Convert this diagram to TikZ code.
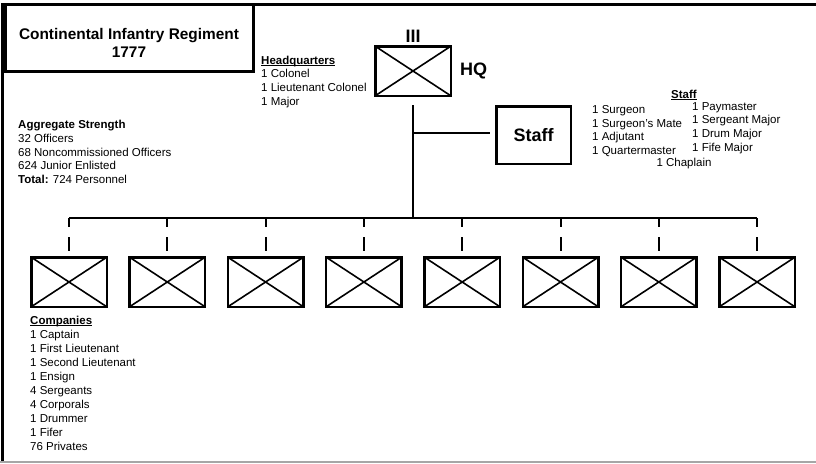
\documentclass[tikz,border=0pt]{standalone}
\usepackage{fontspec}
\setmainfont{Liberation Sans}
\usetikzlibrary{positioning,calc}

% bold heading with a tight underline
\newcommand{\hdr}[1]{\sbox0{\textbf{#1}}\usebox0\llap{\rule[-1.6pt]{\wd0}{0.9pt}}}

\begin{document}
\begin{tikzpicture}[x=1pt, y=-1pt,
    unit/.style={draw, line width=2.5pt, minimum width=75.5pt, minimum height=49.5pt, inner sep=0pt,
        path picture={\draw[line width=1.6pt] (path picture bounding box.north west) -- (path picture bounding box.south east)
            (path picture bounding box.south west) -- (path picture bounding box.north east);}},
    staffbox/.style={draw, line width=2.5pt, minimum width=74.5pt, minimum height=57.5pt, inner sep=0pt, font=\fontsize{18}{20}\selectfont\bfseries},
    roster/.style={anchor=north west, inner sep=0pt, align=left, font=\fontsize{11.5}{13.8}\selectfont},
    big/.style={inner sep=0pt, font=\fontsize{18}{20}\selectfont\bfseries},
    link/.style={line width=2pt},
    drop/.style={line width=2pt, dash pattern=on 9pt off 10pt on 14pt off 10pt}
]
\useasboundingbox (0,0) rectangle (816,463);

% frame and title
\draw[line width=3.5pt] (2.5,463) -- (2.5,4.5) -- (816,4.5);
\draw[gray!70, line width=1.5pt] (0,461.8) -- (816,461.8);
\draw[line width=3pt] (5.5,4.5) rectangle (253,71);
\node[align=center, inner sep=0pt, font=\fontsize{15.4}{18.5}\selectfont\bfseries] (title) at (129,43) {Continental Infantry Regiment\\1777};

% headquarters
\node[unit] (hq) at (413,71) {};
\node[big, above=2.5pt of hq] (size) {III};
\node[big, right=8pt of hq] (hqlabel) {HQ};
\node[roster] (hqlist) at (261,55.5) {\hdr{Headquarters}\\1 Colonel\\1 Lieutenant Colonel\\1 Major};

% staff
\node[staffbox] (staff) at (533.5,135) {Staff};
\node[inner sep=0pt, font=\fontsize{11.5}{13.8}\selectfont] (stafftitle) at (684,95) {\hdr{Staff}};
\node[roster] (staffleft) at (592,105) {1 Surgeon\\1 Surgeon's Mate\\1 Adjutant\\1 Quartermaster};
\node[roster] (staffright) at (692,102) {1 Paymaster\\1 Sergeant Major\\1 Drum Major\\1 Fife Major};
\node[inner sep=0pt, font=\fontsize{11.5}{13.8}\selectfont] (chaplain) at (684,164) {1 Chaplain};

% strength
\node[roster] (strength) at (18,120) {\textbf{Aggregate Strength}\\32 Officers\\68 Noncommissioned Officers\\624 Junior Enlisted\\\textbf{Total:} 724 Personnel};

% companies
\foreach \i in {1,...,8}
    \node[unit] (c\i) at ({69+(\i-1)*98.3},282) {};
\node[roster, font=\fontsize{11.5}{14}\selectfont] (complist) at (30,316) {\hdr{Companies}\\1 Captain\\1 First Lieutenant\\1 Second Lieutenant\\1 Ensign\\4 Sergeants\\4 Corporals\\1 Drummer\\1 Fifer\\76 Privates};

% connectors
\coordinate (bus) at (413,218);
\coordinate (tap) at (413,133);
\draw[link] ($(hq.south)+(0,8)$) -- (bus);
\draw[link, shorten >=5pt] (tap) -- (tap -| staff.west);
\draw[link] (c1.north |- bus) -- (c8.north |- bus);
\foreach \i in {1,...,8}
    \draw[drop] (c\i.north |- bus) -- (c\i.north);
\end{tikzpicture}
\end{document}
